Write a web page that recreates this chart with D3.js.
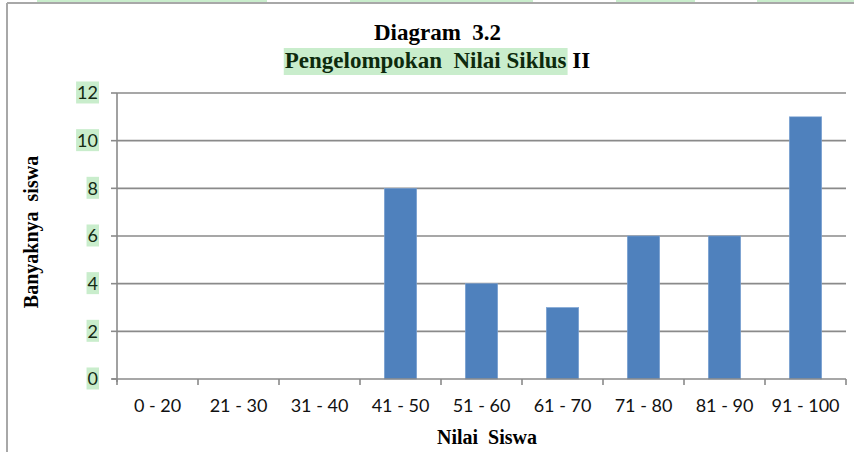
<!DOCTYPE html>
<html>
<head>
<meta charset="utf-8">
<script src="https://cdn.jsdelivr.net/npm/d3@7"></script>
<style>
  body { margin: 0; background: #fff; }
  svg { display: block; }
</style>
</head>
<body>
<div id="chart"></div>
<script>
// data
const categories = ['0 - 20', '21 - 30', '31 - 40', '41 - 50', '51 - 60', '61 - 70', '71 - 80', '81 - 90', '91 - 100'];
const counts = [0, 0, 0, 8, 4, 3, 6, 6, 11];
const yTicks = [0, 2, 4, 6, 8, 10, 12];
const titleLine1 = 'Diagram  3.2';
const titleLine2 = 'Pengelompokan  Nilai Siklus';
const titleLine2Tail = ' II';
const xTitle = 'Nilai  Siswa';
const yTitle = 'Banyaknya  siswa';

const width = 854, height = 452;
const margin = { top: 93, right: 8, bottom: 73, left: 117 };
const hl = '#c9edcc';
const gridColor = '#8a8a8a';
const barColor = '#4f81bd';

const svg = d3.select('#chart').append('svg')
    .attr('width', width)
    .attr('height', height);

// page frame of the scanned document
svg.append('line')
    .attr('x1', 7).attr('x2', width).attr('y1', 3).attr('y2', 3)
    .attr('stroke', '#a8a8a8').attr('stroke-width', 2);
svg.append('line')
    .attr('x1', 7).attr('x2', 7).attr('y1', 3).attr('y2', height)
    .attr('stroke', '#a8a8a8').attr('stroke-width', 2);

// cut-off highlighted line above the figure
[[37, 230], [350, 183], [616, 79], [757, 97]].forEach(s => {
    svg.append('rect').attr('x', s[0]).attr('y', 0).attr('width', s[1]).attr('height', 2).attr('fill', hl);
});

const x = d3.scaleBand()
    .domain(categories)
    .range([margin.left, width - margin.right])
    .paddingInner(0.6)
    .paddingOuter(0.3);

const y = d3.scaleLinear()
    .domain([0, 12])
    .range([height - margin.bottom, margin.top]);

const step = x.step();
const x0 = margin.left;
const x1 = width - margin.right;

// gridlines
svg.append('g')
    .selectAll('line')
    .data(yTicks.filter(t => t > 0))
    .join('line')
        .attr('x1', x0).attr('x2', x1)
        .attr('y1', d => y(d)).attr('y2', d => y(d))
        .attr('stroke', gridColor)
        .attr('stroke-width', 1.6);

// bars
svg.append('g')
    .selectAll('rect')
    .data(counts)
    .join('rect')
        .attr('x', (d, i) => x(categories[i]))
        .attr('y', d => y(d))
        .attr('width', x.bandwidth())
        .attr('height', d => y(0) - y(d))
        .attr('fill', barColor)
        .attr('stroke', '#7ea4d4')
        .attr('stroke-width', 0.6);

// y axis
const yAxis = svg.append('g');
yAxis.append('line')
    .attr('x1', x0).attr('x2', x0)
    .attr('y1', y(12)).attr('y2', y(0) + 3)
    .attr('stroke', gridColor).attr('stroke-width', 1.6);
yAxis.selectAll('.tick')
    .data(yTicks)
    .join('line')
        .attr('x1', x0 - 6).attr('x2', x0)
        .attr('y1', d => y(d)).attr('y2', d => y(d))
        .attr('stroke', gridColor).attr('stroke-width', 1.6);

const yLabels = yAxis.selectAll('g.lab')
    .data(yTicks)
    .join('g').attr('class', 'lab');
yLabels.append('rect').attr('fill', hl);
yLabels.append('text')
    .attr('x', 98)
    .attr('y', d => y(d))
    .attr('dy', '0.36em')
    .attr('text-anchor', 'end')
    .attr('font-family', 'Lato, sans-serif')
    .attr('font-size', 18)
    .attr('fill', '#142a14')
    .text(d => d);
yLabels.each(function() {
    const g = d3.select(this);
    const b = g.select('text').node().getBBox();
    g.select('rect')
        .attr('x', b.x - 1).attr('y', b.y)
        .attr('width', b.width + 2).attr('height', b.height);
});

// x axis
const xAxis = svg.append('g');
xAxis.append('line')
    .attr('x1', x0 - 5).attr('x2', x1)
    .attr('y1', y(0)).attr('y2', y(0))
    .attr('stroke', gridColor).attr('stroke-width', 1.6);
xAxis.selectAll('.tick')
    .data(d3.range(categories.length + 1))
    .join('line')
        .attr('x1', i => x0 + i * step).attr('x2', i => x0 + i * step)
        .attr('y1', y(0)).attr('y2', y(0) + 6)
        .attr('stroke', gridColor).attr('stroke-width', 1.6);
xAxis.selectAll('text')
    .data(categories)
    .join('text')
        .attr('x', d => x(d) + x.bandwidth() / 2)
        .attr('y', y(0) + 33)
        .attr('text-anchor', 'middle')
        .attr('font-family', 'Lato, sans-serif')
        .attr('font-size', 18)
        .attr('fill', '#111')
        .text(d => d);

// axis titles
svg.append('text')
    .attr('x', 487).attr('y', 444)
    .attr('text-anchor', 'middle')
    .attr('font-family', '"Liberation Serif", serif')
    .attr('font-weight', 'bold')
    .attr('font-size', 20)
    .style('white-space', 'pre')
    .text(xTitle);

svg.append('text')
    .attr('transform', 'translate(38,232) rotate(-90)')
    .attr('text-anchor', 'middle')
    .attr('font-family', '"Liberation Serif", serif')
    .attr('font-weight', 'bold')
    .attr('font-size', 20)
    .style('white-space', 'pre')
    .text(yTitle);

// chart title
svg.append('text')
    .attr('x', 437.5).attr('y', 40)
    .attr('text-anchor', 'middle')
    .attr('font-family', '"Liberation Serif", serif')
    .attr('font-weight', 'bold')
    .attr('font-size', 23)
    .style('white-space', 'pre')
    .text(titleLine1);

const t2 = svg.append('g');
const t2rect = t2.append('rect').attr('fill', hl);
const t2a = t2.append('text')
    .attr('y', 68)
    .attr('font-family', '"Liberation Serif", serif')
    .attr('font-weight', 'bold')
    .attr('font-size', 23)
    .attr('fill', '#0d2a0d')
    .style('white-space', 'pre')
    .text(titleLine2);
const t2b = t2.append('text')
    .attr('y', 68)
    .attr('font-family', '"Liberation Serif", serif')
    .attr('font-weight', 'bold')
    .attr('font-size', 23)
    .style('white-space', 'pre')
    .text(titleLine2Tail);
const wa = t2a.node().getComputedTextLength();
const wb = t2b.node().getComputedTextLength();
const startX = 437.5 - (wa + wb) / 2;
t2a.attr('x', startX);
t2b.attr('x', startX + wa);
t2rect.attr('x', startX - 1).attr('y', 48).attr('width', wa + 2).attr('height', 27);
</script>
</body>
</html>
